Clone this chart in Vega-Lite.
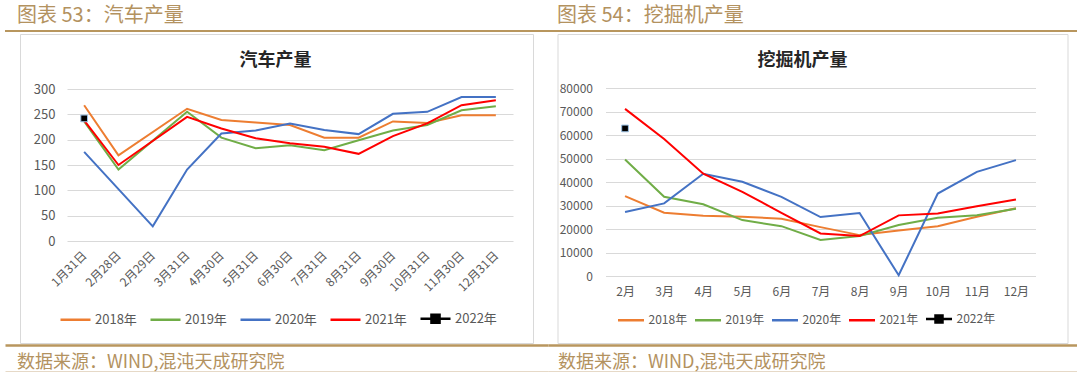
{
  "$schema": "https://vega.github.io/schema/vega-lite/v6.json",
  "padding": {"left": 5, "top": 6, "right": 0, "bottom": 0},
  "background": "white",
  "config": {"font": "Noto Sans CJK SC", "view": {"stroke": null}},
  "datasets": {
    "car": [
      {"d": "1月31日", "s": "2018年", "v": 268}, {"d": "2月28日", "s": "2018年", "v": 169}, {"d": "3月31日", "s": "2018年", "v": 261}, {"d": "4月30日", "s": "2018年", "v": 239}, {"d": "5月31日", "s": "2018年", "v": 234}, {"d": "6月30日", "s": "2018年", "v": 229}, {"d": "7月31日", "s": "2018年", "v": 204}, {"d": "8月31日", "s": "2018年", "v": 204}, {"d": "9月30日", "s": "2018年", "v": 236}, {"d": "10月31日", "s": "2018年", "v": 233}, {"d": "11月30日", "s": "2018年", "v": 248}, {"d": "12月31日", "s": "2018年", "v": 248},
      {"d": "1月31日", "s": "2019年", "v": 236}, {"d": "2月28日", "s": "2019年", "v": 141}, {"d": "3月31日", "s": "2019年", "v": 255}, {"d": "4月30日", "s": "2019年", "v": 204}, {"d": "5月31日", "s": "2019年", "v": 183}, {"d": "6月30日", "s": "2019年", "v": 189}, {"d": "7月31日", "s": "2019年", "v": 179}, {"d": "8月31日", "s": "2019年", "v": 199}, {"d": "9月30日", "s": "2019年", "v": 218}, {"d": "10月31日", "s": "2019年", "v": 229}, {"d": "11月30日", "s": "2019年", "v": 258}, {"d": "12月31日", "s": "2019年", "v": 266},
      {"d": "1月31日", "s": "2020年", "v": 176}, {"d": "2月29日", "s": "2020年", "v": 29}, {"d": "3月31日", "s": "2020年", "v": 141}, {"d": "4月30日", "s": "2020年", "v": 212}, {"d": "5月31日", "s": "2020年", "v": 218}, {"d": "6月30日", "s": "2020年", "v": 232}, {"d": "7月31日", "s": "2020年", "v": 219}, {"d": "8月31日", "s": "2020年", "v": 211}, {"d": "9月30日", "s": "2020年", "v": 251}, {"d": "10月31日", "s": "2020年", "v": 255}, {"d": "11月30日", "s": "2020年", "v": 284}, {"d": "12月31日", "s": "2020年", "v": 284},
      {"d": "1月31日", "s": "2021年", "v": 238}, {"d": "2月28日", "s": "2021年", "v": 150}, {"d": "3月31日", "s": "2021年", "v": 245}, {"d": "4月30日", "s": "2021年", "v": 222}, {"d": "5月31日", "s": "2021年", "v": 203}, {"d": "6月30日", "s": "2021年", "v": 193}, {"d": "7月31日", "s": "2021年", "v": 186}, {"d": "8月31日", "s": "2021年", "v": 172}, {"d": "9月30日", "s": "2021年", "v": 207}, {"d": "10月31日", "s": "2021年", "v": 232}, {"d": "11月30日", "s": "2021年", "v": 268}, {"d": "12月31日", "s": "2021年", "v": 278},
      {"d": "1月31日", "s": "2022年", "v": 242}
    ],
    "exc": [
      {"d": "2月", "s": "2018年", "v": 34000}, {"d": "3月", "s": "2018年", "v": 26900}, {"d": "4月", "s": "2018年", "v": 25600}, {"d": "5月", "s": "2018年", "v": 25200}, {"d": "6月", "s": "2018年", "v": 24400}, {"d": "7月", "s": "2018年", "v": 20800}, {"d": "8月", "s": "2018年", "v": 17400}, {"d": "9月", "s": "2018年", "v": 19400}, {"d": "10月", "s": "2018年", "v": 21200}, {"d": "11月", "s": "2018年", "v": 25200}, {"d": "12月", "s": "2018年", "v": 28800},
      {"d": "2月", "s": "2019年", "v": 49600}, {"d": "3月", "s": "2019年", "v": 33700}, {"d": "4月", "s": "2019年", "v": 30500}, {"d": "5月", "s": "2019年", "v": 23800}, {"d": "6月", "s": "2019年", "v": 21200}, {"d": "7月", "s": "2019年", "v": 15300}, {"d": "8月", "s": "2019年", "v": 17000}, {"d": "9月", "s": "2019年", "v": 21700}, {"d": "10月", "s": "2019年", "v": 24800}, {"d": "11月", "s": "2019年", "v": 25900}, {"d": "12月", "s": "2019年", "v": 28600},
      {"d": "2月", "s": "2020年", "v": 27200}, {"d": "3月", "s": "2020年", "v": 30900}, {"d": "4月", "s": "2020年", "v": 43500}, {"d": "5月", "s": "2020年", "v": 40100}, {"d": "6月", "s": "2020年", "v": 33700}, {"d": "7月", "s": "2020年", "v": 25100}, {"d": "8月", "s": "2020年", "v": 26800}, {"d": "9月", "s": "2020年", "v": 300}, {"d": "10月", "s": "2020年", "v": 35100}, {"d": "11月", "s": "2020年", "v": 44300}, {"d": "12月", "s": "2020年", "v": 49300},
      {"d": "2月", "s": "2021年", "v": 71100}, {"d": "3月", "s": "2021年", "v": 58300}, {"d": "4月", "s": "2021年", "v": 43500}, {"d": "5月", "s": "2021年", "v": 35800}, {"d": "6月", "s": "2021年", "v": 26900}, {"d": "7月", "s": "2021年", "v": 18100}, {"d": "8月", "s": "2021年", "v": 17000}, {"d": "9月", "s": "2021年", "v": 25800}, {"d": "10月", "s": "2021年", "v": 26600}, {"d": "11月", "s": "2021年", "v": 29700}, {"d": "12月", "s": "2021年", "v": 32600},
      {"d": "2月", "s": "2022年", "v": 62800}
    ]
  },
  "hconcat": [
    {
      "vconcat": [
        {
          "width": 543, "height": 2, "data": {"values": []}, "mark": "point",
          "view": {"fill": "#b8965e", "stroke": null},
          "title": {"text": "图表 53：汽车产量", "anchor": "start", "frame": "group", "dx": 12, "offset": 4, "fontSize": 20, "fontWeight": "normal", "color": "#b3925f"}
        },
        {
          "width": 513, "height": 309,
          "view": {"stroke": "#d9d9d9", "strokeWidth": 1, "fill": "white"},
          "title": {"text": "汽车产量", "frame": "group", "offset": -36, "fontSize": 18, "fontWeight": "bold", "color": "#262626", "dx": -1},
          "data": {"name": "car"},
          "encoding": {
            "x": {"field": "d", "type": "ordinal", "sort": ["1月31日", "2月28日", "2月29日", "3月31日", "4月30日", "5月31日", "6月30日", "7月31日", "8月31日", "9月30日", "10月31日", "11月30日", "12月31日"],
              "scale": {"type": "point", "padding": 0.5, "range": [47, 493]},
              "axis": {"title": null, "labelAngle": -45, "labelAlign": "right", "labelBaseline": "middle", "domain": false, "ticks": false, "tickSize": 0, "grid": false, "offset": -102, "labelPadding": 12, "labelFontSize": 12, "labelColor": "#595959"}},
            "y": {"field": "v", "type": "quantitative",
              "scale": {"domain": [0, 300], "range": [207, 55], "nice": false, "zero": true},
              "axis": {"title": null, "values": [0, 50, 100, 150, 200, 250, 300], "domain": false, "ticks": false, "tickSize": 0, "labelPadding": 0, "offset": -35, "grid": true, "gridColor": "#d9d9d9", "gridWidth": 1, "labelFontSize": 13, "labelColor": "#595959"}}
          },
          "layer": [
            {
              "mark": {"type": "line", "strokeWidth": 2},
              "encoding": {
                "color": {"field": "s", "type": "nominal",
                  "scale": {"domain": ["2018年", "2019年", "2020年", "2021年", "2022年"], "range": ["#ED7D31", "#70AD47", "#4472C4", "#FF0000", "#000000"]},
                  "legend": {"orient": "none", "legendX": 39, "legendY": 268, "direction": "horizontal", "title": null,
                    "symbolType": {"expr": "datum.value == '2022年' ? 'M-1,0H1M-0.27,-0.27H0.27V0.27H-0.27Z' : 'stroke'"},
                    "symbolFillColor": {"expr": "datum.value == '2022年' ? '#000000' : 'transparent'"},
                    "symbolSize": 900, "symbolStrokeWidth": 2.5, "labelFontSize": 13, "labelColor": "#595959", "labelOffset": 3, "columnPadding": 8}}
              }
            },
            {
              "transform": [{"filter": "datum.s == '2022年'"}],
              "mark": {"type": "point", "shape": "square", "filled": true, "fill": "#000000", "size": 45, "opacity": 1, "stroke": "#9dc3e6", "strokeWidth": 1}
            }
          ]
        },
        {
          "width": 543, "height": 27, "data": {"values": []}, "mark": "point",
          "title": {"text": "数据来源：WIND,混沌天成研究院", "orient": "top", "anchor": "start", "frame": "group", "dx": 12, "offset": -27, "fontSize": 18, "fontWeight": "normal", "color": "#b3925f"},
          "encoding": {
            "x": {"datum": 0, "type": "quantitative", "scale": {"domain": [0, 1]}, "axis": {"orient": "top", "domainColor": "#b8965e", "domainWidth": 2.5, "ticks": false, "labels": false, "grid": false, "title": null}},
            "y": {"datum": 0, "type": "quantitative", "scale": {"domain": [0, 1]}, "axis": {"values": [0], "domain": false, "ticks": false, "labels": false, "grid": true, "gridColor": "#cdb48f", "gridWidth": 2, "title": null}}
          }
        }
      ],
      "spacing": 2, "bounds": "flush", "center": true,
      "resolve": {"scale": {"color": "independent"}, "legend": {"color": "independent"}}
    },
    {
      "vconcat": [
        {
          "width": 529, "height": 2, "data": {"values": []}, "mark": "point",
          "view": {"fill": "#b8965e", "stroke": null},
          "title": {"text": "图表 54：挖掘机产量", "anchor": "start", "frame": "group", "dx": 9, "offset": 4, "fontSize": 20, "fontWeight": "normal", "color": "#b3925f"}
        },
        {
          "width": 510, "height": 309,
          "view": {"stroke": "#d9d9d9", "strokeWidth": 1, "fill": "white"},
          "title": {"text": "挖掘机产量", "frame": "group", "offset": -36, "fontSize": 18, "fontWeight": "bold", "color": "#262626", "dx": -10},
          "data": {"name": "exc"},
          "encoding": {
            "x": {"field": "d", "type": "ordinal", "sort": ["2月", "3月", "4月", "5月", "6月", "7月", "8月", "9月", "10月", "11月", "12月"],
              "scale": {"type": "point", "padding": 0.5, "range": [48, 478]},
              "axis": {"title": null, "labelAngle": 0, "domain": false, "ticks": false, "tickSize": 0, "grid": false, "offset": -67, "labelPadding": 10, "labelFontSize": 12, "labelColor": "#595959"}},
            "y": {"field": "v", "type": "quantitative",
              "scale": {"domain": [0, 80000], "range": [242, 54], "nice": false, "zero": true},
              "axis": {"title": null, "values": [0, 10000, 20000, 30000, 40000, 50000, 60000, 70000, 80000], "format": "d", "domain": false, "ticks": false, "tickSize": 0, "labelPadding": 0, "offset": -35, "grid": true, "gridColor": "#d9d9d9", "gridWidth": 1, "labelFontSize": 12, "labelColor": "#595959"}}
          },
          "layer": [
            {
              "mark": {"type": "line", "strokeWidth": 2},
              "encoding": {
                "color": {"field": "s", "type": "nominal",
                  "scale": {"domain": ["2018年", "2019年", "2020年", "2021年", "2022年"], "range": ["#ED7D31", "#70AD47", "#4472C4", "#FF0000", "#000000"]},
                  "legend": {"orient": "none", "legendX": 59, "legendY": 270, "direction": "horizontal", "title": null,
                    "symbolType": {"expr": "datum.value == '2022年' ? 'M-1,0H1M-0.27,-0.27H0.27V0.27H-0.27Z' : 'stroke'"},
                    "symbolFillColor": {"expr": "datum.value == '2022年' ? '#000000' : 'transparent'"},
                    "symbolSize": 676, "symbolStrokeWidth": 2.5, "labelFontSize": 12, "labelColor": "#595959", "labelOffset": 3, "columnPadding": 2}}
              }
            },
            {
              "transform": [{"filter": "datum.s == '2022年'"}],
              "mark": {"type": "point", "shape": "square", "filled": true, "fill": "#000000", "size": 45, "opacity": 1, "stroke": "#9dc3e6", "strokeWidth": 1}
            }
          ]
        },
        {
          "width": 529, "height": 27, "data": {"values": []}, "mark": "point",
          "title": {"text": "数据来源：WIND,混沌天成研究院", "orient": "top", "anchor": "start", "frame": "group", "dx": 10, "offset": -27, "fontSize": 18, "fontWeight": "normal", "color": "#b3925f"},
          "encoding": {
            "x": {"datum": 0, "type": "quantitative", "scale": {"domain": [0, 1]}, "axis": {"orient": "top", "domainColor": "#b8965e", "domainWidth": 2.5, "ticks": false, "labels": false, "grid": false, "title": null}},
            "y": {"datum": 0, "type": "quantitative", "scale": {"domain": [0, 1]}, "axis": {"values": [0], "domain": false, "ticks": false, "labels": false, "grid": true, "gridColor": "#cdb48f", "gridWidth": 2, "title": null}}
          }
        }
      ],
      "spacing": 2, "bounds": "flush", "center": true,
      "resolve": {"scale": {"color": "independent"}, "legend": {"color": "independent"}}
    }
  ],
  "spacing": 0,
  "resolve": {"scale": {"color": "independent"}, "legend": {"color": "independent"}}
}
